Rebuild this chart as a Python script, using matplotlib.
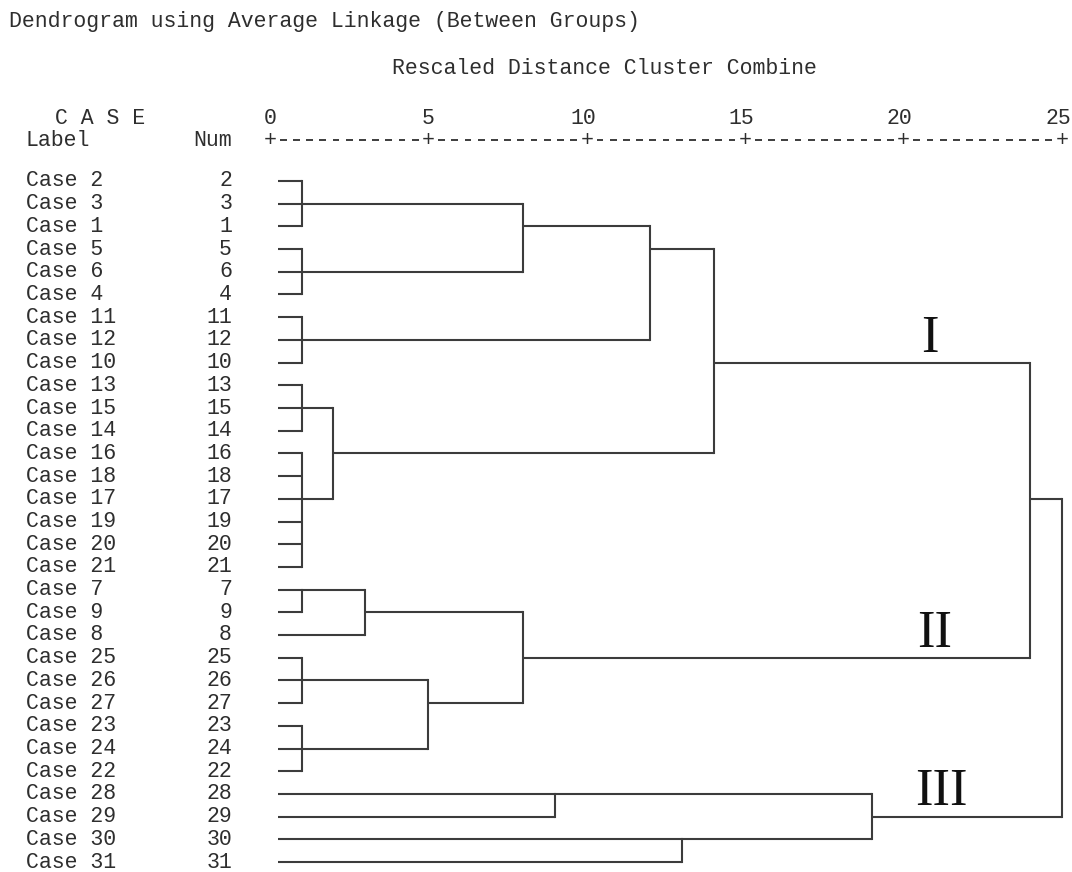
import numpy as np
import matplotlib
matplotlib.use("Agg")
import matplotlib.pyplot as plt

# case order as listed down the left side
case_order = [2, 3, 1, 5, 6, 4, 11, 12, 10, 13, 15, 14, 16, 18, 17, 19, 20, 21,
              7, 9, 8, 25, 26, 27, 23, 24, 22, 28, 29, 30, 31]

# merges: name, children, rescaled distance, row the joined line leaves from
merge_names = ["A", "B", "C", "D", "E", "F", "G", "H", "J", "K", "L", "M",
               "N", "P", "Q", "R", "S", "T", "U", "V"]
merge_children = [
    ["c2", "c3", "c1"],
    ["c5", "c6", "c4"],
    ["c11", "c12", "c10"],
    ["c13", "c15", "c14"],
    ["c16", "c18", "c17", "c19", "c20", "c21"],
    ["c7", "c9"],
    ["c25", "c26", "c27"],
    ["c23", "c24", "c22"],
    ["D", "E"],
    ["F", "c8"],
    ["G", "H"],
    ["A", "B"],
    ["K", "L"],
    ["c28", "c29"],
    ["M", "C"],
    ["c30", "c31"],
    ["Q", "J"],
    ["P", "R"],
    ["S", "N"],
    ["U", "T"],
]
merge_heights = [1, 1, 1, 1, 1, 1, 1, 1, 2, 3, 5, 8, 8, 9, 12, 13, 14, 19, 24, 25]
merge_rows = [1, 4, 7, 10, 14, 18, 22, 25, 12, 19, 23, 2, 21, 27, 3, 29, 8, 28, 14, 21]

ruler_ticks = [0, 5, 10, 15, 20, 25]
group_labels = ["I", "II", "III"]

# ---- layout (pixels of the 1072x872 picture) ----
W, H = 1072, 872
X0, XS = 270.0, 31.68      # pixel of distance 0, pixels per unit
Y0, YS = 181.0, 22.7       # pixel of first row, pixels per row
LEAF_X = 0.25
LINE = "#3c3c3c"
TXT = "#2e2e2e"
MONO = "Liberation Mono"
FS = 15.5

fig = plt.figure(figsize=(W / 100, H / 100), dpi=100)
ax = fig.add_axes([0, 0, 1, 1])
ax.set_xlim(-X0 / XS, (W - X0) / XS)
ax.set_ylim((H - Y0) / YS, -Y0 / YS)
ax.axis("off")


def fx(px):
    return px / W


def fy(py):
    return 1 - py / H


# node positions: (x where the node's line starts, row)
pos = {}
for r, c in enumerate(case_order):
    pos["c%d" % c] = (LEAF_X, r)

for name, kids, h, row in zip(merge_names, merge_children, merge_heights, merge_rows):
    rows = [pos[k][1] for k in kids]
    for k in kids:
        kx, kr = pos[k]
        ax.plot([kx, h], [kr, kr], color=LINE, lw=1.5, solid_capstyle="butt")
    ax.plot([h, h], [min(rows), max(rows)], color=LINE, lw=1.5,
            solid_capstyle="projecting")
    pos[name] = (h, row)

# row labels
for r, c in enumerate(case_order):
    ax.text(fx(26), r, "Case %d" % c, transform=ax.get_yaxis_transform(),
            ha="left", va="center", fontsize=FS, family=MONO, color=TXT)
    ax.text(fx(232), r, str(c), transform=ax.get_yaxis_transform(),
            ha="right", va="center", fontsize=FS, family=MONO, color=TXT)

# headers
fig.text(fx(9), fy(21), "Dendrogram using Average Linkage (Between Groups)",
         ha="left", va="center", fontsize=FS, family=MONO, color=TXT)
fig.text(fx(392), fy(69), "Rescaled Distance Cluster Combine",
         ha="left", va="center", fontsize=FS, family=MONO, color=TXT)
fig.text(fx(55), fy(119), "C A S E", ha="left", va="center",
         fontsize=FS, family=MONO, color=TXT)
fig.text(fx(26), fy(140), "Label", ha="left", va="center",
         fontsize=FS, family=MONO, color=TXT)
fig.text(fx(232), fy(140), "Num", ha="right", va="center",
         fontsize=FS, family=MONO, color=TXT)

# ruler: "+" at each tick, 11 dashes in between
ry_num = (119 - Y0) / YS
ry = (140 - Y0) / YS
for i, t in enumerate(ruler_ticks):
    ax.text(t - (0.12 if t >= 10 else 0), ry_num, str(t), ha="center",
            va="center", fontsize=FS, family=MONO, color=TXT)
    ax.text(t, ry, "+", ha="center", va="center", fontsize=FS,
            family=MONO, color=TXT)
    if i < len(ruler_ticks) - 1:
        step = (ruler_ticks[i + 1] - t) / 12
        centers = t + step * np.arange(1, 12)
        ax.hlines([ry] * len(centers), centers - 0.11, centers + 0.11,
                  color=TXT, lw=1.3)

# cluster group labels
for lab, (px, py) in zip(group_labels, [(930, 352), (935, 647), (941, 805)]):
    fig.text(fx(px), fy(py), lab, ha="center", va="baseline", fontsize=38,
             family="Liberation Serif", color="#111111")

fig.savefig("out.png", dpi=100, facecolor="white")
